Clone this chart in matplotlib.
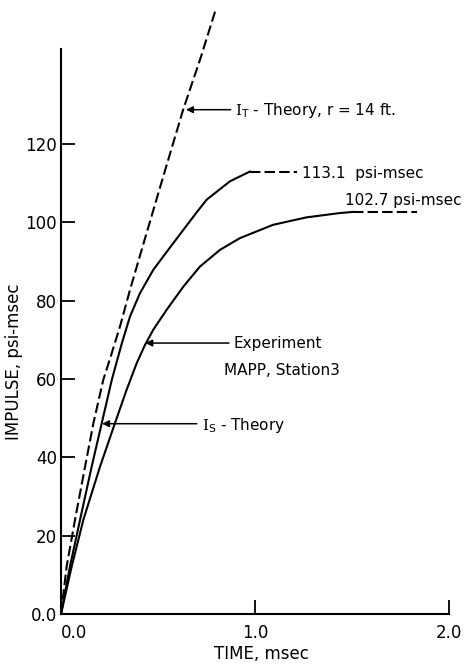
import matplotlib
matplotlib.use("Agg")
import matplotlib.pyplot as plt

plt.rcParams['font.family'] = 'DejaVu Sans'
plt.rcParams['mathtext.fontset'] = 'custom'
plt.rcParams['mathtext.rm'] = 'DejaVu Serif'
plt.rcParams['mathtext.sf'] = 'DejaVu Sans'

# curves (time in msec, impulse in psi-msec)
it_time = [0, 0.029, 0.072, 0.124, 0.167, 0.218, 0.261, 0.304, 0.356, 0.416, 0.52, 0.63, 0.72, 0.80]
it_imp = [0, 12.1, 24.0, 37.6, 48.7, 59.8, 66.5, 73.4, 82.8, 93.0, 110.5, 128.8, 142, 154.7]

is_time = [0, 0.046, 0.098, 0.158, 0.21, 0.262, 0.313, 0.356, 0.407, 0.476, 0.553, 0.631, 0.70, 0.751, 0.871, 0.974]
is_imp = [0, 12.1, 24.0, 37.6, 48.7, 59.8, 69.0, 76.0, 81.9, 87.9, 93.0, 98.1, 102.6, 105.8, 110.5, 113.0]
is_ext = [0.974, 1.216]

exp_time = [0, 0.055, 0.115, 0.201, 0.278, 0.338, 0.390, 0.433, 0.476, 0.545, 0.631, 0.716, 0.820,
            0.923, 1.094, 1.266, 1.438, 1.507]
exp_imp = [0, 12.1, 24.0, 37.6, 48.7, 57.2, 64.0, 68.7, 72.6, 77.7, 83.6, 88.7, 93.0,
           96.0, 99.4, 101.3, 102.4, 102.7]
exp_ext = [1.507, 1.835]

xticks = [0.0, 1.0, 2.0]
xtick_labels = ['0.0', '1.0', '2.0']
yticks = [0, 20, 40, 60, 80, 100, 120]
ytick_labels = ['0.0', '20', '40', '60', '80', '100', '120']

fig = plt.figure(figsize=(4.74, 6.65), dpi=100)
ax = fig.add_axes([0.1287, 0.0767, 0.818, 0.8496])

lw = 1.5
dash = (5, 2)
ax.plot(it_time, it_imp, color='black', lw=lw, dashes=dash, clip_on=False)
ax.plot(is_time, is_imp, color='black', lw=lw)
ax.plot(is_ext, [is_imp[-1]] * 2, color='black', lw=lw, dashes=dash)
ax.plot(exp_time, exp_imp, color='black', lw=lw)
ax.plot(exp_ext, [exp_imp[-1]] * 2, color='black', lw=lw, dashes=dash)

ax.set_xlim(0, 2.0)
ax.set_ylim(0, 144.3)
ax.spines['top'].set_visible(False)
ax.spines['right'].set_visible(False)
for s in ['left', 'bottom']:
    ax.spines[s].set_linewidth(1.5)

ax.set_xticks(xticks)
ax.set_xticklabels(xtick_labels)
ax.set_yticks(yticks)
ax.set_yticklabels(ytick_labels)
ax.tick_params(direction='in', length=10, width=1.3, labelsize=12, pad=7)
ax.tick_params(axis='y', pad=3)
ax.get_xticklabels()[0].set_horizontalalignment('left')

ax.set_xlabel('TIME, msec', fontsize=12)
ax.xaxis.set_label_coords(0.518, -0.055)
ax.set_ylabel('IMPULSE, psi-msec', fontsize=12)
ax.yaxis.set_label_coords(-0.098, 0.446)

arrow = dict(arrowstyle='-|>', color='black', lw=1.1, mutation_scale=10, shrinkA=0, shrinkB=0)
ax.annotate('', xy=(0.645, 128.8), xytext=(0.875, 128.8), arrowprops=arrow)
ax.text(0.897, 127.5, r'$\mathrm{I}_{\mathsf{T}}$ - Theory, r = 14 ft.', fontsize=11, va='baseline')

ax.text(1.241, 111.3, '113.1  psi-msec', fontsize=11, va='baseline')
ax.text(1.464, 104.5, '102.7 psi-msec', fontsize=11, va='baseline')

ax.annotate('', xy=(0.435, 69.2), xytext=(0.866, 69.2), arrowprops=arrow)
ax.text(0.888, 67.9, 'Experiment', fontsize=11, va='baseline')
ax.text(0.840, 61.1, 'MAPP, Station3', fontsize=11, va='baseline')

ax.annotate('', xy=(0.212, 48.6), xytext=(0.70, 48.6), arrowprops=arrow)
ax.text(0.725, 47.0, r'$\mathrm{I}_{\mathsf{S}}$ - Theory', fontsize=11, va='baseline')

fig.savefig('out.png', dpi=100)
